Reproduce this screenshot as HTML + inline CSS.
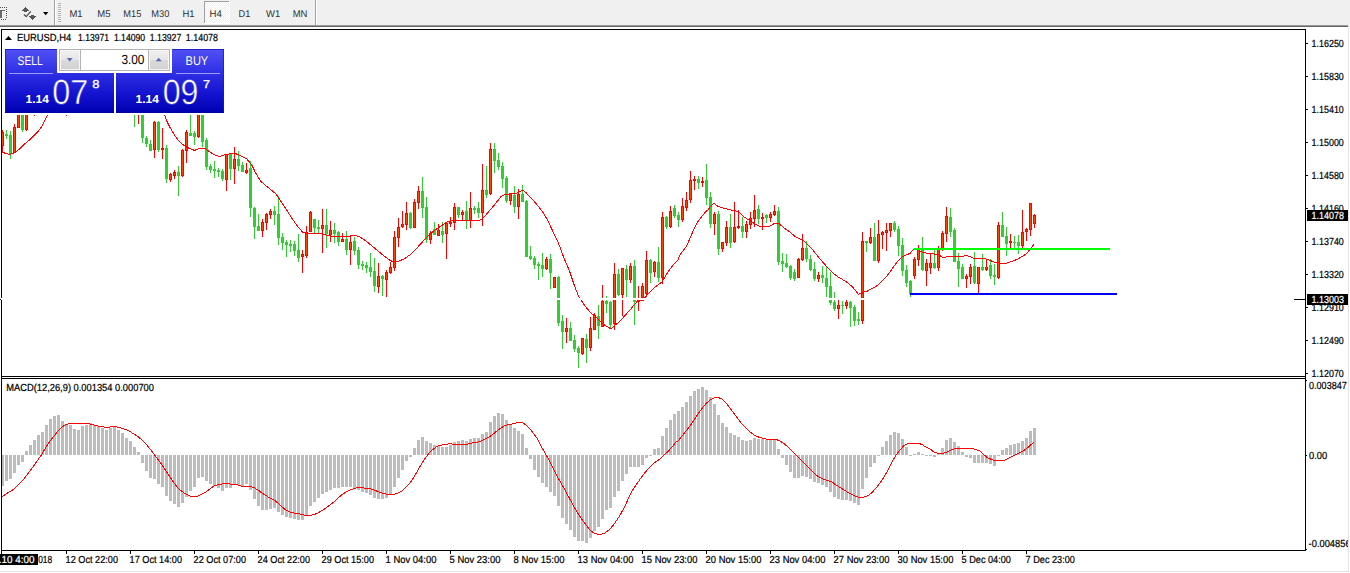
<!DOCTYPE html><html><head><meta charset="utf-8"><title>EURUSD H4</title><style>
html,body{margin:0;padding:0;background:#fff;overflow:hidden}svg{display:block}text{font-family:"Liberation Sans",sans-serif;text-rendering:geometricPrecision}
</style></head><body>
<svg width="1350" height="573" viewBox="0 0 1350 573">
<defs>
<linearGradient id="gb" x1="0" y1="0" x2="0" y2="1"><stop offset="0" stop-color="#5252f4"/><stop offset="0.35" stop-color="#3030e6"/><stop offset="0.75" stop-color="#1010cc"/><stop offset="1" stop-color="#0000b0"/></linearGradient>
<linearGradient id="gbtn" x1="0" y1="0" x2="0" y2="1"><stop offset="0" stop-color="#efefef"/><stop offset="0.48" stop-color="#e6e6e6"/><stop offset="0.52" stop-color="#dadada"/><stop offset="1" stop-color="#d2d2d2"/></linearGradient>
<pattern id="chk" width="2" height="2" patternUnits="userSpaceOnUse"><rect width="2" height="2" fill="#f0f0f0"/><rect width="1" height="1" fill="#fff"/><rect x="1" y="1" width="1" height="1" fill="#fff"/></pattern>
<linearGradient id="gbu" gradientUnits="userSpaceOnUse" x1="0" y1="49" x2="0" y2="113"><stop offset="0" stop-color="#5252f4"/><stop offset="0.35" stop-color="#3030e6"/><stop offset="0.75" stop-color="#1010cc"/><stop offset="1" stop-color="#0000b0"/></linearGradient>
<clipPath id="cm"><rect x="2" y="30" width="1303" height="346"/></clipPath>
<clipPath id="cd"><rect x="2" y="379" width="1303" height="171"/></clipPath>
<clipPath id="cr"><rect x="1306" y="27" width="42" height="544"/></clipPath>
</defs>
<rect width="1350" height="573" fill="#fff"/>
<g shape-rendering="crispEdges">
<rect x="0" y="0" width="1350" height="25" fill="#f0f0f0"/>
<rect x="0" y="25" width="1348" height="1" fill="#9a9a9a"/>
<rect x="0" y="26" width="1348" height="1" fill="#646464"/>
<rect x="1348" y="25" width="1" height="547" fill="#e3e3e3"/>
<rect x="0" y="571" width="1349" height="1" fill="#e3e3e3"/>
<rect x="54" y="0" width="1" height="25" fill="#a0a0a0"/><rect x="55" y="0" width="1" height="25" fill="#fff"/>
<rect x="315" y="0" width="1" height="25" fill="#a0a0a0"/><rect x="316" y="0" width="1" height="25" fill="#fff"/>
<rect x="58" y="3" width="3" height="1" fill="#b4b4b4"/>
<rect x="58" y="5" width="3" height="1" fill="#b4b4b4"/>
<rect x="58" y="7" width="3" height="1" fill="#b4b4b4"/>
<rect x="58" y="9" width="3" height="1" fill="#b4b4b4"/>
<rect x="58" y="11" width="3" height="1" fill="#b4b4b4"/>
<rect x="58" y="13" width="3" height="1" fill="#b4b4b4"/>
<rect x="58" y="15" width="3" height="1" fill="#b4b4b4"/>
<rect x="58" y="17" width="3" height="1" fill="#b4b4b4"/>
<rect x="58" y="19" width="3" height="1" fill="#b4b4b4"/>
<rect x="58" y="21" width="3" height="1" fill="#b4b4b4"/>
<rect x="204" y="1" width="26" height="23" fill="url(#chk)"/>
<rect x="204" y="1" width="26" height="1" fill="#a0a0a0"/><rect x="204" y="1" width="1" height="22" fill="#a0a0a0"/>
<rect x="229" y="1" width="1" height="23" fill="#fff"/><rect x="204" y="23" width="26" height="1" fill="#fff"/>
<rect x="0" y="7" width="1" height="1" fill="#505050"/>
<rect x="2" y="7" width="1" height="1" fill="#505050"/>
<rect x="4" y="7" width="1" height="1" fill="#505050"/>
<rect x="6" y="7" width="1" height="1" fill="#505050"/>
<rect x="1" y="19" width="1" height="1" fill="#505050"/>
<rect x="3" y="19" width="1" height="1" fill="#505050"/>
<rect x="5" y="19" width="1" height="1" fill="#505050"/>
<rect x="6" y="9" width="1" height="1" fill="#505050"/>
<rect x="6" y="11" width="1" height="1" fill="#505050"/>
<rect x="6" y="13" width="1" height="1" fill="#505050"/>
<rect x="6" y="15" width="1" height="1" fill="#505050"/>
<rect x="6" y="17" width="1" height="1" fill="#505050"/>
<rect x="0" y="10" width="5" height="1" fill="#6a6a6a"/><rect x="0" y="10" width="2" height="8" fill="#6a6a6a"/>
</g>
<g shape-rendering="crispEdges" fill="#585858">
<rect x="25" y="7" width="1" height="1"/>
<rect x="24" y="8" width="3" height="1"/>
<rect x="23" y="9" width="5" height="1"/>
<rect x="22" y="10" width="7" height="1"/>
<rect x="24" y="11" width="3" height="1"/>
<rect x="31" y="15" width="3" height="1"/>
<rect x="29" y="16" width="7" height="1"/>
<rect x="30" y="17" width="5" height="1"/>
<rect x="31" y="18" width="3" height="1"/>
<rect x="32" y="19" width="1" height="1"/>
</g>
<polyline points="24,14.6 26.2,16.6 30.8,11.4" fill="none" stroke="#505050" stroke-width="1.3"/>
<polygon points="43,12 48.4,12 45.7,15.2" fill="#000"/>
<text x="69.4" y="16.8" font-size="9.7" fill="#303030" textLength="13.1" lengthAdjust="spacingAndGlyphs" stroke="none">M1</text>
<text x="97.3" y="16.8" font-size="9.7" fill="#303030" textLength="13.2" lengthAdjust="spacingAndGlyphs" stroke="none">M5</text>
<text x="123.3" y="16.8" font-size="9.7" fill="#303030" textLength="18.0" lengthAdjust="spacingAndGlyphs" stroke="none">M15</text>
<text x="151.3" y="16.8" font-size="9.7" fill="#303030" textLength="18.0" lengthAdjust="spacingAndGlyphs" stroke="none">M30</text>
<text x="182.4" y="16.8" font-size="9.7" fill="#303030" textLength="12.1" lengthAdjust="spacingAndGlyphs" stroke="none">H1</text>
<text x="209.5" y="16.8" font-size="9.7" fill="#303030" textLength="12.3" lengthAdjust="spacingAndGlyphs" stroke="none">H4</text>
<text x="238.5" y="16.8" font-size="9.7" fill="#303030" textLength="11.8" lengthAdjust="spacingAndGlyphs" stroke="none">D1</text>
<text x="266.0" y="16.8" font-size="9.7" fill="#303030" textLength="14.2" lengthAdjust="spacingAndGlyphs" stroke="none">W1</text>
<text x="292.7" y="16.8" font-size="9.7" fill="#303030" textLength="14.7" lengthAdjust="spacingAndGlyphs" stroke="none">MN</text>
<g shape-rendering="crispEdges" fill="#000">
<rect x="1" y="29" width="1305" height="1"/>
<rect x="1" y="29" width="1" height="522"/>
<rect x="1305" y="29" width="1" height="522"/>
<rect x="1" y="376" width="1305" height="1"/>
<rect x="1" y="378" width="1305" height="1"/>
<rect x="1" y="550" width="1305" height="1"/>
</g>
<rect x="2" y="377" width="1303" height="1" fill="#fff"/>
<g clip-path="url(#cm)" shape-rendering="crispEdges">
<rect x="2" y="130" width="1" height="17" fill="#ff0000"/>
<rect x="1" y="132" width="3" height="14" fill="#ff0000"/>
<rect x="2" y="133" width="1" height="12" fill="#ff4500"/>
<rect x="6" y="130" width="1" height="9" fill="#32cd32"/>
<rect x="5" y="134" width="3" height="2" fill="#32cd32"/>
<rect x="10" y="131" width="1" height="28" fill="#32cd32"/>
<rect x="9" y="135" width="3" height="19" fill="#32cd32"/>
<rect x="14" y="124" width="1" height="29" fill="#ff0000"/>
<rect x="13" y="127" width="3" height="26" fill="#ff0000"/>
<rect x="14" y="128" width="1" height="24" fill="#ff4500"/>
<rect x="18" y="100" width="1" height="28" fill="#ff0000"/>
<rect x="17" y="100" width="3" height="28" fill="#ff0000"/>
<rect x="18" y="101" width="1" height="26" fill="#ff4500"/>
<rect x="22" y="100" width="1" height="32" fill="#32cd32"/>
<rect x="21" y="100" width="3" height="30" fill="#32cd32"/>
<rect x="26" y="100" width="1" height="31" fill="#ff0000"/>
<rect x="25" y="100" width="3" height="30" fill="#ff0000"/>
<rect x="26" y="101" width="1" height="28" fill="#ff4500"/>
<rect x="34" y="100" width="1" height="16" fill="#ff0000"/>
<rect x="33" y="100" width="3" height="12" fill="#ff0000"/>
<rect x="34" y="101" width="1" height="10" fill="#ff4500"/>
<rect x="66" y="100" width="1" height="16" fill="#ff0000"/>
<rect x="65" y="100" width="3" height="12" fill="#ff0000"/>
<rect x="66" y="101" width="1" height="10" fill="#ff4500"/>
<rect x="134" y="100" width="1" height="27" fill="#32cd32"/>
<rect x="133" y="100" width="3" height="12" fill="#32cd32"/>
<rect x="138" y="100" width="1" height="24" fill="#ff0000"/>
<rect x="137" y="100" width="3" height="12" fill="#ff0000"/>
<rect x="138" y="101" width="1" height="10" fill="#ff4500"/>
<rect x="142" y="100" width="1" height="43" fill="#32cd32"/>
<rect x="141" y="100" width="3" height="38" fill="#32cd32"/>
<rect x="146" y="136" width="1" height="11" fill="#32cd32"/>
<rect x="145" y="138" width="3" height="6" fill="#32cd32"/>
<rect x="150" y="140" width="1" height="11" fill="#32cd32"/>
<rect x="149" y="144" width="3" height="7" fill="#32cd32"/>
<rect x="154" y="121" width="1" height="37" fill="#ff0000"/>
<rect x="153" y="122" width="3" height="28" fill="#ff0000"/>
<rect x="154" y="123" width="1" height="26" fill="#ff4500"/>
<rect x="158" y="121" width="1" height="31" fill="#32cd32"/>
<rect x="157" y="122" width="3" height="28" fill="#32cd32"/>
<rect x="162" y="128" width="1" height="31" fill="#ff0000"/>
<rect x="161" y="148" width="3" height="2" fill="#ff0000"/>
<rect x="166" y="145" width="1" height="38" fill="#32cd32"/>
<rect x="165" y="148" width="3" height="31" fill="#32cd32"/>
<rect x="170" y="173" width="1" height="9" fill="#ff0000"/>
<rect x="169" y="174" width="3" height="6" fill="#ff0000"/>
<rect x="170" y="175" width="1" height="4" fill="#ff4500"/>
<rect x="174" y="170" width="1" height="9" fill="#ff0000"/>
<rect x="173" y="172" width="3" height="4" fill="#ff0000"/>
<rect x="174" y="173" width="1" height="2" fill="#ff4500"/>
<rect x="178" y="166" width="1" height="30" fill="#32cd32"/>
<rect x="177" y="172" width="3" height="4" fill="#32cd32"/>
<rect x="182" y="149" width="1" height="28" fill="#ff0000"/>
<rect x="181" y="150" width="3" height="26" fill="#ff0000"/>
<rect x="182" y="151" width="1" height="24" fill="#ff4500"/>
<rect x="186" y="130" width="1" height="33" fill="#ff0000"/>
<rect x="185" y="132" width="3" height="19" fill="#ff0000"/>
<rect x="186" y="133" width="1" height="17" fill="#ff4500"/>
<rect x="190" y="100" width="1" height="36" fill="#32cd32"/>
<rect x="189" y="133" width="3" height="3" fill="#32cd32"/>
<rect x="194" y="131" width="1" height="14" fill="#32cd32"/>
<rect x="193" y="133" width="3" height="4" fill="#32cd32"/>
<rect x="198" y="100" width="1" height="38" fill="#ff0000"/>
<rect x="197" y="100" width="3" height="37" fill="#ff0000"/>
<rect x="198" y="101" width="1" height="35" fill="#ff4500"/>
<rect x="202" y="100" width="1" height="47" fill="#32cd32"/>
<rect x="201" y="100" width="3" height="42" fill="#32cd32"/>
<rect x="206" y="138" width="1" height="32" fill="#32cd32"/>
<rect x="205" y="140" width="3" height="27" fill="#32cd32"/>
<rect x="210" y="164" width="1" height="9" fill="#32cd32"/>
<rect x="209" y="166" width="3" height="4" fill="#32cd32"/>
<rect x="214" y="161" width="1" height="17" fill="#32cd32"/>
<rect x="213" y="169" width="3" height="2" fill="#32cd32"/>
<rect x="218" y="168" width="1" height="9" fill="#32cd32"/>
<rect x="217" y="170" width="3" height="2" fill="#32cd32"/>
<rect x="222" y="169" width="1" height="12" fill="#32cd32"/>
<rect x="221" y="171" width="3" height="8" fill="#32cd32"/>
<rect x="226" y="154" width="1" height="37" fill="#ff0000"/>
<rect x="225" y="154" width="3" height="26" fill="#ff0000"/>
<rect x="226" y="155" width="1" height="24" fill="#ff4500"/>
<rect x="230" y="154" width="1" height="26" fill="#32cd32"/>
<rect x="229" y="154" width="3" height="15" fill="#32cd32"/>
<rect x="234" y="147" width="1" height="37" fill="#ff0000"/>
<rect x="233" y="159" width="3" height="10" fill="#ff0000"/>
<rect x="234" y="160" width="1" height="8" fill="#ff4500"/>
<rect x="238" y="151" width="1" height="20" fill="#32cd32"/>
<rect x="237" y="159" width="3" height="7" fill="#32cd32"/>
<rect x="242" y="162" width="1" height="10" fill="#32cd32"/>
<rect x="241" y="165" width="3" height="7" fill="#32cd32"/>
<rect x="246" y="163" width="1" height="11" fill="#ff0000"/>
<rect x="245" y="170" width="3" height="3" fill="#ff0000"/>
<rect x="246" y="171" width="1" height="1" fill="#ff4500"/>
<rect x="250" y="161" width="1" height="56" fill="#32cd32"/>
<rect x="249" y="168" width="3" height="40" fill="#32cd32"/>
<rect x="254" y="207" width="1" height="32" fill="#32cd32"/>
<rect x="253" y="208" width="3" height="19" fill="#32cd32"/>
<rect x="258" y="214" width="1" height="17" fill="#32cd32"/>
<rect x="257" y="226" width="3" height="5" fill="#32cd32"/>
<rect x="262" y="219" width="1" height="18" fill="#ff0000"/>
<rect x="261" y="222" width="3" height="9" fill="#ff0000"/>
<rect x="262" y="223" width="1" height="7" fill="#ff4500"/>
<rect x="266" y="213" width="1" height="17" fill="#ff0000"/>
<rect x="265" y="214" width="3" height="9" fill="#ff0000"/>
<rect x="266" y="215" width="1" height="7" fill="#ff4500"/>
<rect x="270" y="209" width="1" height="10" fill="#ff0000"/>
<rect x="269" y="211" width="3" height="4" fill="#ff0000"/>
<rect x="270" y="212" width="1" height="2" fill="#ff4500"/>
<rect x="274" y="206" width="1" height="19" fill="#32cd32"/>
<rect x="273" y="211" width="3" height="4" fill="#32cd32"/>
<rect x="278" y="196" width="1" height="49" fill="#32cd32"/>
<rect x="277" y="214" width="3" height="24" fill="#32cd32"/>
<rect x="282" y="233" width="1" height="17" fill="#32cd32"/>
<rect x="281" y="237" width="3" height="6" fill="#32cd32"/>
<rect x="286" y="240" width="1" height="17" fill="#32cd32"/>
<rect x="285" y="242" width="3" height="3" fill="#32cd32"/>
<rect x="290" y="240" width="1" height="12" fill="#32cd32"/>
<rect x="289" y="244" width="3" height="2" fill="#32cd32"/>
<rect x="294" y="241" width="1" height="15" fill="#32cd32"/>
<rect x="293" y="244" width="3" height="7" fill="#32cd32"/>
<rect x="298" y="234" width="1" height="28" fill="#32cd32"/>
<rect x="297" y="250" width="3" height="8" fill="#32cd32"/>
<rect x="302" y="250" width="1" height="23" fill="#ff0000"/>
<rect x="301" y="254" width="3" height="3" fill="#ff0000"/>
<rect x="302" y="255" width="1" height="1" fill="#ff4500"/>
<rect x="306" y="226" width="1" height="32" fill="#ff0000"/>
<rect x="305" y="232" width="3" height="24" fill="#ff0000"/>
<rect x="306" y="233" width="1" height="22" fill="#ff4500"/>
<rect x="310" y="211" width="1" height="21" fill="#ff0000"/>
<rect x="309" y="212" width="3" height="20" fill="#ff0000"/>
<rect x="310" y="213" width="1" height="18" fill="#ff4500"/>
<rect x="314" y="219" width="1" height="14" fill="#32cd32"/>
<rect x="313" y="219" width="3" height="9" fill="#32cd32"/>
<rect x="318" y="220" width="1" height="13" fill="#32cd32"/>
<rect x="317" y="227" width="3" height="2" fill="#32cd32"/>
<rect x="322" y="209" width="1" height="44" fill="#ff0000"/>
<rect x="321" y="225" width="3" height="4" fill="#ff0000"/>
<rect x="322" y="226" width="1" height="2" fill="#ff4500"/>
<rect x="326" y="209" width="1" height="39" fill="#32cd32"/>
<rect x="325" y="225" width="3" height="9" fill="#32cd32"/>
<rect x="330" y="221" width="1" height="21" fill="#ff0000"/>
<rect x="329" y="230" width="3" height="5" fill="#ff0000"/>
<rect x="330" y="231" width="1" height="3" fill="#ff4500"/>
<rect x="334" y="223" width="1" height="20" fill="#32cd32"/>
<rect x="333" y="230" width="3" height="4" fill="#32cd32"/>
<rect x="338" y="231" width="1" height="15" fill="#32cd32"/>
<rect x="337" y="232" width="3" height="10" fill="#32cd32"/>
<rect x="342" y="233" width="1" height="9" fill="#ff0000"/>
<rect x="341" y="239" width="3" height="3" fill="#ff0000"/>
<rect x="342" y="240" width="1" height="1" fill="#ff4500"/>
<rect x="346" y="231" width="1" height="24" fill="#32cd32"/>
<rect x="345" y="239" width="3" height="11" fill="#32cd32"/>
<rect x="350" y="236" width="1" height="29" fill="#ff0000"/>
<rect x="349" y="242" width="3" height="8" fill="#ff0000"/>
<rect x="350" y="243" width="1" height="6" fill="#ff4500"/>
<rect x="354" y="237" width="1" height="18" fill="#32cd32"/>
<rect x="353" y="241" width="3" height="10" fill="#32cd32"/>
<rect x="358" y="247" width="1" height="22" fill="#32cd32"/>
<rect x="357" y="250" width="3" height="15" fill="#32cd32"/>
<rect x="362" y="261" width="1" height="9" fill="#32cd32"/>
<rect x="361" y="264" width="3" height="2" fill="#32cd32"/>
<rect x="366" y="262" width="1" height="11" fill="#32cd32"/>
<rect x="365" y="265" width="3" height="3" fill="#32cd32"/>
<rect x="370" y="253" width="1" height="24" fill="#32cd32"/>
<rect x="369" y="267" width="3" height="5" fill="#32cd32"/>
<rect x="374" y="258" width="1" height="34" fill="#32cd32"/>
<rect x="373" y="271" width="3" height="15" fill="#32cd32"/>
<rect x="378" y="263" width="1" height="30" fill="#ff0000"/>
<rect x="377" y="276" width="3" height="11" fill="#ff0000"/>
<rect x="378" y="277" width="1" height="9" fill="#ff4500"/>
<rect x="382" y="275" width="1" height="21" fill="#32cd32"/>
<rect x="381" y="276" width="3" height="3" fill="#32cd32"/>
<rect x="386" y="270" width="1" height="27" fill="#ff0000"/>
<rect x="385" y="272" width="3" height="8" fill="#ff0000"/>
<rect x="386" y="273" width="1" height="6" fill="#ff4500"/>
<rect x="390" y="262" width="1" height="12" fill="#ff0000"/>
<rect x="389" y="267" width="3" height="6" fill="#ff0000"/>
<rect x="390" y="268" width="1" height="4" fill="#ff4500"/>
<rect x="394" y="231" width="1" height="40" fill="#ff0000"/>
<rect x="393" y="237" width="3" height="31" fill="#ff0000"/>
<rect x="394" y="238" width="1" height="29" fill="#ff4500"/>
<rect x="398" y="218" width="1" height="29" fill="#ff0000"/>
<rect x="397" y="227" width="3" height="11" fill="#ff0000"/>
<rect x="398" y="228" width="1" height="9" fill="#ff4500"/>
<rect x="402" y="211" width="1" height="17" fill="#ff0000"/>
<rect x="401" y="224" width="3" height="3" fill="#ff0000"/>
<rect x="402" y="225" width="1" height="1" fill="#ff4500"/>
<rect x="406" y="202" width="1" height="28" fill="#ff0000"/>
<rect x="405" y="213" width="3" height="12" fill="#ff0000"/>
<rect x="406" y="214" width="1" height="10" fill="#ff4500"/>
<rect x="410" y="212" width="1" height="17" fill="#32cd32"/>
<rect x="409" y="213" width="3" height="15" fill="#32cd32"/>
<rect x="414" y="199" width="1" height="29" fill="#ff0000"/>
<rect x="413" y="202" width="3" height="26" fill="#ff0000"/>
<rect x="414" y="203" width="1" height="24" fill="#ff4500"/>
<rect x="418" y="186" width="1" height="23" fill="#ff0000"/>
<rect x="417" y="191" width="3" height="12" fill="#ff0000"/>
<rect x="418" y="192" width="1" height="10" fill="#ff4500"/>
<rect x="422" y="177" width="1" height="41" fill="#32cd32"/>
<rect x="421" y="191" width="3" height="17" fill="#32cd32"/>
<rect x="426" y="197" width="1" height="46" fill="#32cd32"/>
<rect x="425" y="207" width="3" height="33" fill="#32cd32"/>
<rect x="430" y="231" width="1" height="13" fill="#ff0000"/>
<rect x="429" y="233" width="3" height="7" fill="#ff0000"/>
<rect x="430" y="234" width="1" height="5" fill="#ff4500"/>
<rect x="434" y="222" width="1" height="13" fill="#32cd32"/>
<rect x="433" y="229" width="3" height="6" fill="#32cd32"/>
<rect x="438" y="224" width="1" height="12" fill="#ff0000"/>
<rect x="437" y="230" width="3" height="6" fill="#ff0000"/>
<rect x="438" y="231" width="1" height="4" fill="#ff4500"/>
<rect x="442" y="222" width="1" height="21" fill="#32cd32"/>
<rect x="441" y="231" width="3" height="4" fill="#32cd32"/>
<rect x="446" y="222" width="1" height="37" fill="#ff0000"/>
<rect x="445" y="223" width="3" height="11" fill="#ff0000"/>
<rect x="446" y="224" width="1" height="9" fill="#ff4500"/>
<rect x="450" y="217" width="1" height="10" fill="#ff0000"/>
<rect x="449" y="222" width="3" height="2" fill="#ff0000"/>
<rect x="454" y="203" width="1" height="27" fill="#ff0000"/>
<rect x="453" y="207" width="3" height="16" fill="#ff0000"/>
<rect x="454" y="208" width="1" height="14" fill="#ff4500"/>
<rect x="458" y="207" width="1" height="11" fill="#32cd32"/>
<rect x="457" y="207" width="3" height="8" fill="#32cd32"/>
<rect x="462" y="210" width="1" height="11" fill="#ff0000"/>
<rect x="461" y="212" width="3" height="3" fill="#ff0000"/>
<rect x="462" y="213" width="1" height="1" fill="#ff4500"/>
<rect x="466" y="201" width="1" height="28" fill="#32cd32"/>
<rect x="465" y="211" width="3" height="10" fill="#32cd32"/>
<rect x="470" y="192" width="1" height="36" fill="#ff0000"/>
<rect x="469" y="208" width="3" height="13" fill="#ff0000"/>
<rect x="470" y="209" width="1" height="11" fill="#ff4500"/>
<rect x="474" y="206" width="1" height="8" fill="#32cd32"/>
<rect x="473" y="208" width="3" height="2" fill="#32cd32"/>
<rect x="478" y="202" width="1" height="16" fill="#32cd32"/>
<rect x="477" y="208" width="3" height="5" fill="#32cd32"/>
<rect x="482" y="164" width="1" height="62" fill="#ff0000"/>
<rect x="481" y="190" width="3" height="23" fill="#ff0000"/>
<rect x="482" y="191" width="1" height="21" fill="#ff4500"/>
<rect x="486" y="166" width="1" height="32" fill="#32cd32"/>
<rect x="485" y="190" width="3" height="5" fill="#32cd32"/>
<rect x="490" y="143" width="1" height="52" fill="#ff0000"/>
<rect x="489" y="149" width="3" height="45" fill="#ff0000"/>
<rect x="490" y="150" width="1" height="43" fill="#ff4500"/>
<rect x="494" y="143" width="1" height="30" fill="#32cd32"/>
<rect x="493" y="149" width="3" height="12" fill="#32cd32"/>
<rect x="498" y="153" width="1" height="17" fill="#32cd32"/>
<rect x="497" y="160" width="3" height="7" fill="#32cd32"/>
<rect x="502" y="162" width="1" height="26" fill="#32cd32"/>
<rect x="501" y="166" width="3" height="13" fill="#32cd32"/>
<rect x="506" y="176" width="1" height="27" fill="#32cd32"/>
<rect x="505" y="178" width="3" height="23" fill="#32cd32"/>
<rect x="510" y="193" width="1" height="12" fill="#ff0000"/>
<rect x="509" y="193" width="3" height="8" fill="#ff0000"/>
<rect x="510" y="194" width="1" height="6" fill="#ff4500"/>
<rect x="514" y="186" width="1" height="27" fill="#32cd32"/>
<rect x="513" y="195" width="3" height="12" fill="#32cd32"/>
<rect x="518" y="189" width="1" height="30" fill="#ff0000"/>
<rect x="517" y="194" width="3" height="13" fill="#ff0000"/>
<rect x="518" y="195" width="1" height="11" fill="#ff4500"/>
<rect x="522" y="185" width="1" height="17" fill="#32cd32"/>
<rect x="521" y="194" width="3" height="8" fill="#32cd32"/>
<rect x="526" y="200" width="1" height="57" fill="#32cd32"/>
<rect x="525" y="201" width="3" height="56" fill="#32cd32"/>
<rect x="530" y="246" width="1" height="14" fill="#32cd32"/>
<rect x="529" y="256" width="3" height="3" fill="#32cd32"/>
<rect x="534" y="256" width="1" height="13" fill="#32cd32"/>
<rect x="533" y="258" width="3" height="7" fill="#32cd32"/>
<rect x="538" y="262" width="1" height="18" fill="#32cd32"/>
<rect x="537" y="264" width="3" height="2" fill="#32cd32"/>
<rect x="542" y="253" width="1" height="24" fill="#32cd32"/>
<rect x="541" y="265" width="3" height="4" fill="#32cd32"/>
<rect x="546" y="257" width="1" height="13" fill="#ff0000"/>
<rect x="545" y="259" width="3" height="10" fill="#ff0000"/>
<rect x="546" y="260" width="1" height="8" fill="#ff4500"/>
<rect x="550" y="254" width="1" height="35" fill="#32cd32"/>
<rect x="549" y="259" width="3" height="14" fill="#32cd32"/>
<rect x="554" y="277" width="1" height="11" fill="#ff0000"/>
<rect x="553" y="277" width="3" height="11" fill="#ff0000"/>
<rect x="554" y="278" width="1" height="9" fill="#ff4500"/>
<rect x="558" y="276" width="1" height="50" fill="#32cd32"/>
<rect x="557" y="277" width="3" height="46" fill="#32cd32"/>
<rect x="562" y="315" width="1" height="34" fill="#32cd32"/>
<rect x="561" y="321" width="3" height="11" fill="#32cd32"/>
<rect x="566" y="318" width="1" height="25" fill="#ff0000"/>
<rect x="565" y="328" width="3" height="4" fill="#ff0000"/>
<rect x="566" y="329" width="1" height="2" fill="#ff4500"/>
<rect x="570" y="322" width="1" height="19" fill="#32cd32"/>
<rect x="569" y="328" width="3" height="13" fill="#32cd32"/>
<rect x="574" y="335" width="1" height="17" fill="#32cd32"/>
<rect x="573" y="340" width="3" height="9" fill="#32cd32"/>
<rect x="578" y="346" width="1" height="22" fill="#32cd32"/>
<rect x="577" y="348" width="3" height="5" fill="#32cd32"/>
<rect x="582" y="338" width="1" height="17" fill="#ff0000"/>
<rect x="581" y="338" width="3" height="16" fill="#ff0000"/>
<rect x="582" y="339" width="1" height="14" fill="#ff4500"/>
<rect x="586" y="334" width="1" height="29" fill="#32cd32"/>
<rect x="585" y="339" width="3" height="9" fill="#32cd32"/>
<rect x="590" y="317" width="1" height="34" fill="#ff0000"/>
<rect x="589" y="328" width="3" height="20" fill="#ff0000"/>
<rect x="590" y="329" width="1" height="18" fill="#ff4500"/>
<rect x="594" y="313" width="1" height="17" fill="#ff0000"/>
<rect x="593" y="315" width="3" height="15" fill="#ff0000"/>
<rect x="594" y="316" width="1" height="13" fill="#ff4500"/>
<rect x="598" y="305" width="1" height="34" fill="#32cd32"/>
<rect x="597" y="316" width="3" height="10" fill="#32cd32"/>
<rect x="602" y="285" width="1" height="42" fill="#ff0000"/>
<rect x="601" y="301" width="3" height="26" fill="#ff0000"/>
<rect x="602" y="302" width="1" height="24" fill="#ff4500"/>
<rect x="606" y="296" width="1" height="17" fill="#32cd32"/>
<rect x="605" y="301" width="3" height="3" fill="#32cd32"/>
<rect x="610" y="301" width="1" height="28" fill="#32cd32"/>
<rect x="609" y="302" width="3" height="23" fill="#32cd32"/>
<rect x="614" y="263" width="1" height="67" fill="#ff0000"/>
<rect x="613" y="274" width="3" height="50" fill="#ff0000"/>
<rect x="614" y="275" width="1" height="48" fill="#ff4500"/>
<rect x="618" y="269" width="1" height="27" fill="#32cd32"/>
<rect x="617" y="274" width="3" height="21" fill="#32cd32"/>
<rect x="622" y="268" width="1" height="48" fill="#ff0000"/>
<rect x="621" y="268" width="3" height="27" fill="#ff0000"/>
<rect x="622" y="269" width="1" height="25" fill="#ff4500"/>
<rect x="626" y="265" width="1" height="32" fill="#32cd32"/>
<rect x="625" y="269" width="3" height="11" fill="#32cd32"/>
<rect x="630" y="263" width="1" height="20" fill="#ff0000"/>
<rect x="629" y="266" width="3" height="14" fill="#ff0000"/>
<rect x="630" y="267" width="1" height="12" fill="#ff4500"/>
<rect x="634" y="260" width="1" height="65" fill="#32cd32"/>
<rect x="633" y="266" width="3" height="36" fill="#32cd32"/>
<rect x="638" y="286" width="1" height="25" fill="#ff0000"/>
<rect x="637" y="300" width="3" height="2" fill="#ff0000"/>
<rect x="642" y="283" width="1" height="15" fill="#ff0000"/>
<rect x="641" y="286" width="3" height="12" fill="#ff0000"/>
<rect x="642" y="287" width="1" height="10" fill="#ff4500"/>
<rect x="646" y="251" width="1" height="46" fill="#ff0000"/>
<rect x="645" y="260" width="3" height="34" fill="#ff0000"/>
<rect x="646" y="261" width="1" height="32" fill="#ff4500"/>
<rect x="650" y="259" width="1" height="24" fill="#32cd32"/>
<rect x="649" y="260" width="3" height="13" fill="#32cd32"/>
<rect x="654" y="261" width="1" height="16" fill="#ff0000"/>
<rect x="653" y="262" width="3" height="10" fill="#ff0000"/>
<rect x="654" y="263" width="1" height="8" fill="#ff4500"/>
<rect x="658" y="247" width="1" height="35" fill="#32cd32"/>
<rect x="657" y="262" width="3" height="16" fill="#32cd32"/>
<rect x="662" y="212" width="1" height="72" fill="#ff0000"/>
<rect x="661" y="217" width="3" height="61" fill="#ff0000"/>
<rect x="662" y="218" width="1" height="59" fill="#ff4500"/>
<rect x="666" y="216" width="1" height="13" fill="#32cd32"/>
<rect x="665" y="217" width="3" height="10" fill="#32cd32"/>
<rect x="670" y="206" width="1" height="22" fill="#ff0000"/>
<rect x="669" y="211" width="3" height="16" fill="#ff0000"/>
<rect x="670" y="212" width="1" height="14" fill="#ff4500"/>
<rect x="674" y="205" width="1" height="13" fill="#32cd32"/>
<rect x="673" y="208" width="3" height="8" fill="#32cd32"/>
<rect x="678" y="212" width="1" height="15" fill="#32cd32"/>
<rect x="677" y="215" width="3" height="5" fill="#32cd32"/>
<rect x="682" y="198" width="1" height="24" fill="#ff0000"/>
<rect x="681" y="206" width="3" height="14" fill="#ff0000"/>
<rect x="682" y="207" width="1" height="12" fill="#ff4500"/>
<rect x="686" y="192" width="1" height="19" fill="#ff0000"/>
<rect x="685" y="200" width="3" height="8" fill="#ff0000"/>
<rect x="686" y="201" width="1" height="6" fill="#ff4500"/>
<rect x="690" y="171" width="1" height="32" fill="#ff0000"/>
<rect x="689" y="180" width="3" height="20" fill="#ff0000"/>
<rect x="690" y="181" width="1" height="18" fill="#ff4500"/>
<rect x="694" y="176" width="1" height="14" fill="#ff0000"/>
<rect x="693" y="179" width="3" height="2" fill="#ff0000"/>
<rect x="698" y="176" width="1" height="13" fill="#32cd32"/>
<rect x="697" y="179" width="3" height="4" fill="#32cd32"/>
<rect x="702" y="177" width="1" height="10" fill="#ff0000"/>
<rect x="701" y="181" width="3" height="2" fill="#ff0000"/>
<rect x="706" y="164" width="1" height="41" fill="#32cd32"/>
<rect x="705" y="180" width="3" height="18" fill="#32cd32"/>
<rect x="710" y="192" width="1" height="36" fill="#32cd32"/>
<rect x="709" y="197" width="3" height="27" fill="#32cd32"/>
<rect x="714" y="212" width="1" height="23" fill="#ff0000"/>
<rect x="713" y="214" width="3" height="10" fill="#ff0000"/>
<rect x="714" y="215" width="1" height="8" fill="#ff4500"/>
<rect x="718" y="211" width="1" height="44" fill="#32cd32"/>
<rect x="717" y="214" width="3" height="35" fill="#32cd32"/>
<rect x="722" y="242" width="1" height="10" fill="#ff0000"/>
<rect x="721" y="242" width="3" height="7" fill="#ff0000"/>
<rect x="722" y="243" width="1" height="5" fill="#ff4500"/>
<rect x="726" y="221" width="1" height="25" fill="#ff0000"/>
<rect x="725" y="227" width="3" height="16" fill="#ff0000"/>
<rect x="726" y="228" width="1" height="14" fill="#ff4500"/>
<rect x="730" y="214" width="1" height="34" fill="#32cd32"/>
<rect x="729" y="227" width="3" height="16" fill="#32cd32"/>
<rect x="734" y="202" width="1" height="41" fill="#ff0000"/>
<rect x="733" y="227" width="3" height="15" fill="#ff0000"/>
<rect x="734" y="228" width="1" height="13" fill="#ff4500"/>
<rect x="738" y="210" width="1" height="19" fill="#ff0000"/>
<rect x="737" y="226" width="3" height="2" fill="#ff0000"/>
<rect x="742" y="217" width="1" height="21" fill="#32cd32"/>
<rect x="741" y="226" width="3" height="6" fill="#32cd32"/>
<rect x="746" y="221" width="1" height="17" fill="#ff0000"/>
<rect x="745" y="224" width="3" height="8" fill="#ff0000"/>
<rect x="746" y="225" width="1" height="6" fill="#ff4500"/>
<rect x="750" y="212" width="1" height="17" fill="#ff0000"/>
<rect x="749" y="218" width="3" height="7" fill="#ff0000"/>
<rect x="750" y="219" width="1" height="5" fill="#ff4500"/>
<rect x="754" y="195" width="1" height="32" fill="#ff0000"/>
<rect x="753" y="210" width="3" height="9" fill="#ff0000"/>
<rect x="754" y="211" width="1" height="7" fill="#ff4500"/>
<rect x="758" y="205" width="1" height="19" fill="#32cd32"/>
<rect x="757" y="209" width="3" height="10" fill="#32cd32"/>
<rect x="762" y="213" width="1" height="17" fill="#ff0000"/>
<rect x="761" y="217" width="3" height="2" fill="#ff0000"/>
<rect x="766" y="214" width="1" height="9" fill="#32cd32"/>
<rect x="765" y="215" width="3" height="3" fill="#32cd32"/>
<rect x="770" y="212" width="1" height="10" fill="#ff0000"/>
<rect x="769" y="214" width="3" height="4" fill="#ff0000"/>
<rect x="770" y="215" width="1" height="2" fill="#ff4500"/>
<rect x="774" y="205" width="1" height="11" fill="#ff0000"/>
<rect x="773" y="211" width="3" height="4" fill="#ff0000"/>
<rect x="774" y="212" width="1" height="2" fill="#ff4500"/>
<rect x="778" y="207" width="1" height="58" fill="#32cd32"/>
<rect x="777" y="211" width="3" height="51" fill="#32cd32"/>
<rect x="782" y="253" width="1" height="19" fill="#32cd32"/>
<rect x="781" y="261" width="3" height="3" fill="#32cd32"/>
<rect x="786" y="254" width="1" height="14" fill="#32cd32"/>
<rect x="785" y="263" width="3" height="4" fill="#32cd32"/>
<rect x="790" y="265" width="1" height="15" fill="#32cd32"/>
<rect x="789" y="266" width="3" height="12" fill="#32cd32"/>
<rect x="794" y="269" width="1" height="12" fill="#32cd32"/>
<rect x="793" y="272" width="3" height="7" fill="#32cd32"/>
<rect x="798" y="258" width="1" height="20" fill="#ff0000"/>
<rect x="797" y="259" width="3" height="19" fill="#ff0000"/>
<rect x="798" y="260" width="1" height="17" fill="#ff4500"/>
<rect x="802" y="234" width="1" height="27" fill="#ff0000"/>
<rect x="801" y="248" width="3" height="12" fill="#ff0000"/>
<rect x="802" y="249" width="1" height="10" fill="#ff4500"/>
<rect x="806" y="241" width="1" height="21" fill="#32cd32"/>
<rect x="805" y="248" width="3" height="11" fill="#32cd32"/>
<rect x="810" y="255" width="1" height="16" fill="#32cd32"/>
<rect x="809" y="259" width="3" height="11" fill="#32cd32"/>
<rect x="814" y="262" width="1" height="19" fill="#32cd32"/>
<rect x="813" y="269" width="3" height="10" fill="#32cd32"/>
<rect x="818" y="272" width="1" height="10" fill="#ff0000"/>
<rect x="817" y="275" width="3" height="4" fill="#ff0000"/>
<rect x="818" y="276" width="1" height="2" fill="#ff4500"/>
<rect x="822" y="266" width="1" height="17" fill="#32cd32"/>
<rect x="821" y="275" width="3" height="3" fill="#32cd32"/>
<rect x="826" y="267" width="1" height="30" fill="#32cd32"/>
<rect x="825" y="278" width="3" height="9" fill="#32cd32"/>
<rect x="830" y="272" width="1" height="33" fill="#32cd32"/>
<rect x="829" y="286" width="3" height="17" fill="#32cd32"/>
<rect x="834" y="292" width="1" height="19" fill="#32cd32"/>
<rect x="833" y="302" width="3" height="7" fill="#32cd32"/>
<rect x="838" y="300" width="1" height="19" fill="#ff0000"/>
<rect x="837" y="305" width="3" height="4" fill="#ff0000"/>
<rect x="838" y="306" width="1" height="2" fill="#ff4500"/>
<rect x="842" y="301" width="1" height="13" fill="#32cd32"/>
<rect x="841" y="305" width="3" height="1" fill="#32cd32"/>
<rect x="846" y="300" width="1" height="9" fill="#ff0000"/>
<rect x="845" y="302" width="3" height="4" fill="#ff0000"/>
<rect x="846" y="303" width="1" height="2" fill="#ff4500"/>
<rect x="850" y="301" width="1" height="26" fill="#32cd32"/>
<rect x="849" y="302" width="3" height="6" fill="#32cd32"/>
<rect x="854" y="305" width="1" height="21" fill="#32cd32"/>
<rect x="853" y="307" width="3" height="14" fill="#32cd32"/>
<rect x="858" y="312" width="1" height="13" fill="#32cd32"/>
<rect x="857" y="319" width="3" height="2" fill="#32cd32"/>
<rect x="862" y="232" width="1" height="92" fill="#ff0000"/>
<rect x="861" y="241" width="3" height="80" fill="#ff0000"/>
<rect x="862" y="242" width="1" height="78" fill="#ff4500"/>
<rect x="866" y="241" width="1" height="11" fill="#32cd32"/>
<rect x="865" y="241" width="3" height="2" fill="#32cd32"/>
<rect x="870" y="228" width="1" height="16" fill="#ff0000"/>
<rect x="869" y="237" width="3" height="6" fill="#ff0000"/>
<rect x="870" y="238" width="1" height="4" fill="#ff4500"/>
<rect x="874" y="223" width="1" height="38" fill="#32cd32"/>
<rect x="873" y="237" width="3" height="24" fill="#32cd32"/>
<rect x="878" y="220" width="1" height="43" fill="#ff0000"/>
<rect x="877" y="234" width="3" height="27" fill="#ff0000"/>
<rect x="878" y="235" width="1" height="25" fill="#ff4500"/>
<rect x="882" y="231" width="1" height="18" fill="#ff0000"/>
<rect x="881" y="232" width="3" height="3" fill="#ff0000"/>
<rect x="882" y="233" width="1" height="1" fill="#ff4500"/>
<rect x="886" y="223" width="1" height="28" fill="#ff0000"/>
<rect x="885" y="230" width="3" height="3" fill="#ff0000"/>
<rect x="886" y="231" width="1" height="1" fill="#ff4500"/>
<rect x="890" y="223" width="1" height="14" fill="#ff0000"/>
<rect x="889" y="223" width="3" height="8" fill="#ff0000"/>
<rect x="890" y="224" width="1" height="6" fill="#ff4500"/>
<rect x="894" y="221" width="1" height="11" fill="#32cd32"/>
<rect x="893" y="223" width="3" height="7" fill="#32cd32"/>
<rect x="898" y="226" width="1" height="30" fill="#32cd32"/>
<rect x="897" y="229" width="3" height="17" fill="#32cd32"/>
<rect x="902" y="238" width="1" height="38" fill="#32cd32"/>
<rect x="901" y="245" width="3" height="26" fill="#32cd32"/>
<rect x="906" y="265" width="1" height="22" fill="#32cd32"/>
<rect x="905" y="270" width="3" height="13" fill="#32cd32"/>
<rect x="910" y="280" width="1" height="17" fill="#32cd32"/>
<rect x="909" y="281" width="3" height="13" fill="#32cd32"/>
<rect x="914" y="257" width="1" height="22" fill="#ff0000"/>
<rect x="913" y="259" width="3" height="17" fill="#ff0000"/>
<rect x="914" y="260" width="1" height="15" fill="#ff4500"/>
<rect x="918" y="245" width="1" height="21" fill="#ff0000"/>
<rect x="917" y="249" width="3" height="11" fill="#ff0000"/>
<rect x="918" y="250" width="1" height="9" fill="#ff4500"/>
<rect x="922" y="237" width="1" height="34" fill="#32cd32"/>
<rect x="921" y="249" width="3" height="21" fill="#32cd32"/>
<rect x="926" y="259" width="1" height="27" fill="#ff0000"/>
<rect x="925" y="263" width="3" height="8" fill="#ff0000"/>
<rect x="926" y="264" width="1" height="6" fill="#ff4500"/>
<rect x="930" y="253" width="1" height="21" fill="#ff0000"/>
<rect x="929" y="263" width="3" height="5" fill="#ff0000"/>
<rect x="930" y="264" width="1" height="3" fill="#ff4500"/>
<rect x="934" y="250" width="1" height="19" fill="#32cd32"/>
<rect x="933" y="263" width="3" height="5" fill="#32cd32"/>
<rect x="938" y="246" width="1" height="25" fill="#ff0000"/>
<rect x="937" y="248" width="3" height="20" fill="#ff0000"/>
<rect x="938" y="249" width="1" height="18" fill="#ff4500"/>
<rect x="942" y="231" width="1" height="20" fill="#ff0000"/>
<rect x="941" y="233" width="3" height="16" fill="#ff0000"/>
<rect x="942" y="234" width="1" height="14" fill="#ff4500"/>
<rect x="946" y="207" width="1" height="35" fill="#ff0000"/>
<rect x="945" y="216" width="3" height="18" fill="#ff0000"/>
<rect x="946" y="217" width="1" height="16" fill="#ff4500"/>
<rect x="950" y="208" width="1" height="29" fill="#32cd32"/>
<rect x="949" y="217" width="3" height="15" fill="#32cd32"/>
<rect x="954" y="228" width="1" height="34" fill="#32cd32"/>
<rect x="953" y="230" width="3" height="32" fill="#32cd32"/>
<rect x="958" y="253" width="1" height="34" fill="#32cd32"/>
<rect x="957" y="261" width="3" height="8" fill="#32cd32"/>
<rect x="962" y="264" width="1" height="15" fill="#32cd32"/>
<rect x="961" y="267" width="3" height="12" fill="#32cd32"/>
<rect x="966" y="274" width="1" height="14" fill="#ff0000"/>
<rect x="965" y="276" width="3" height="3" fill="#ff0000"/>
<rect x="966" y="277" width="1" height="1" fill="#ff4500"/>
<rect x="970" y="264" width="1" height="20" fill="#ff0000"/>
<rect x="969" y="267" width="3" height="10" fill="#ff0000"/>
<rect x="970" y="268" width="1" height="8" fill="#ff4500"/>
<rect x="974" y="252" width="1" height="32" fill="#32cd32"/>
<rect x="973" y="266" width="3" height="17" fill="#32cd32"/>
<rect x="978" y="267" width="1" height="26" fill="#ff0000"/>
<rect x="977" y="267" width="3" height="17" fill="#ff0000"/>
<rect x="978" y="268" width="1" height="15" fill="#ff4500"/>
<rect x="982" y="254" width="1" height="17" fill="#32cd32"/>
<rect x="981" y="267" width="3" height="3" fill="#32cd32"/>
<rect x="986" y="260" width="1" height="11" fill="#ff0000"/>
<rect x="985" y="267" width="3" height="3" fill="#ff0000"/>
<rect x="986" y="268" width="1" height="1" fill="#ff4500"/>
<rect x="990" y="259" width="1" height="20" fill="#32cd32"/>
<rect x="989" y="265" width="3" height="11" fill="#32cd32"/>
<rect x="994" y="264" width="1" height="21" fill="#32cd32"/>
<rect x="993" y="275" width="3" height="2" fill="#32cd32"/>
<rect x="998" y="222" width="1" height="57" fill="#ff0000"/>
<rect x="997" y="225" width="3" height="53" fill="#ff0000"/>
<rect x="998" y="226" width="1" height="51" fill="#ff4500"/>
<rect x="1002" y="212" width="1" height="25" fill="#32cd32"/>
<rect x="1001" y="225" width="3" height="12" fill="#32cd32"/>
<rect x="1006" y="227" width="1" height="29" fill="#32cd32"/>
<rect x="1005" y="236" width="3" height="8" fill="#32cd32"/>
<rect x="1010" y="234" width="1" height="14" fill="#ff0000"/>
<rect x="1009" y="241" width="3" height="2" fill="#ff0000"/>
<rect x="1014" y="236" width="1" height="12" fill="#32cd32"/>
<rect x="1013" y="242" width="3" height="1" fill="#32cd32"/>
<rect x="1018" y="235" width="1" height="19" fill="#32cd32"/>
<rect x="1017" y="242" width="3" height="4" fill="#32cd32"/>
<rect x="1022" y="210" width="1" height="38" fill="#ff0000"/>
<rect x="1021" y="232" width="3" height="14" fill="#ff0000"/>
<rect x="1022" y="233" width="1" height="12" fill="#ff4500"/>
<rect x="1026" y="228" width="1" height="13" fill="#ff0000"/>
<rect x="1025" y="229" width="3" height="3" fill="#ff0000"/>
<rect x="1026" y="230" width="1" height="1" fill="#ff4500"/>
<rect x="1030" y="203" width="1" height="33" fill="#ff0000"/>
<rect x="1029" y="203" width="3" height="27" fill="#ff0000"/>
<rect x="1030" y="204" width="1" height="25" fill="#ff4500"/>
<rect x="1034" y="214" width="1" height="14" fill="#ff0000"/>
<rect x="1033" y="215" width="3" height="9" fill="#ff0000"/>
<rect x="1034" y="216" width="1" height="7" fill="#ff4500"/>
</g>
<polyline points="2,146 2,152 6,153.6 10,154.4 14,153 17,151 20,148.5 24.9,143.8 29.8,139.8 34.8,134.8 39.8,129.4 43.7,122.9 47.2,115.5 50,109" fill="none" stroke="#ff0000" stroke-width="1" stroke-linejoin="round" shape-rendering="crispEdges" clip-path="url(#cm)"/>
<polyline points="160,106 164.6,115 167,121.5 170,127.4 173,132.5 176,137.3 179,141 182.2,144.2 186.8,147.3 190.7,148.9 194.5,150.4 199.1,148.5 205.2,148.4 209.8,152 214,154.5 219,156.5 225.2,154.7 230,153.8 234.4,153.1 240.6,155.8 246.7,158.8 251.3,164.2 255.9,173.4 260.5,181 265,185 270,189 276,194 280,200 286,209 292,218.4 298,227 303,232.4 308,233.6 320,233.6 326,235 330,236 340,236.4 350,236 354,235 360,237 366,241 372,246 378,251 384,256 390,260.4 394,262 398,261.4 404,259 410.2,254.7 416,249 420,244.5 423.9,240.3 427,237 430,233.8 434.5,230.5 439,227.4 443,224.6 446.6,222.1 451,220.8 455.7,220.1 464,220.1 471,220.1 474.5,220.8 477.8,221 480.5,219.8 483,218.3 487.5,213 492.2,207.6 496.7,202 501.3,196.3 504.3,194.7 510,194 516.5,193.2 519.5,191.8 522.6,190.2 526,192.5 528,195 532,199 536,203.6 540,208.4 544,214 548,221 552,229.5 556,238 558.3,242.8 561,250 563.8,257.5 566.5,264 569.3,270.3 572,278.5 574.8,286.8 578.5,296 581.2,300.5 585.8,307 591.3,313.4 595,316 599,320 602.3,323.5 606,326 609.6,328 610.6,329 614,326 618,323 622,319 626,314.4 630,310 634,305 638,300.6 643,300.4 646,296 650,292 654,288 658,285 662,282 666,275 670,269 674,264 678,260 679.9,255 683,251 686.5,246.2 689,240.5 691.5,234.6 694,229 696.5,223.8 699.8,219 703.1,214.7 705.6,212 708.1,209.7 710,207.3 712.2,204.8 714.4,203.1 716,204.8 718,206.4 722,207.7 726.3,208.9 732,210.2 737.9,211.4 741,214 744.5,217.2 748,219.5 751.2,221.4 754.5,223.6 757.8,225.5 760,226.3 762.8,226.7 769.4,226.3 772,225 774.4,223.3 778.5,223.3 781,225.3 784.3,228 787,230 790,232.1 792,234 796,237 800,239 804,241 808,245 812,249 816,254 820,259 824,263.4 828,268 832,272 836,275.6 840,278 844,280.4 848,283 852,286.6 855,289.8 858.4,294.5 859.4,293.5 862,293.5 863.6,291.5 866.8,291.5 870,289.6 874,287.6 878,285 882,281 886,277 890,272 894,266 898,261 902,257 906,255 910,253.4 914,249 918,249.6 922,252 926,253 930,253.6 934,254 938,254 942,257 946,257 950,256 954,256 958,257 962,256.6 966,255.6 970,256.6 974,258.6 980,258.6 986,259 990,260.4 994,262 998,262.6 1002,263.4 1006,263.4 1010,262 1014,260.6 1018,259 1022,256.6 1026,254 1030,249.6 1034,244.4" fill="none" stroke="#ff0000" stroke-width="1" stroke-linejoin="round" shape-rendering="crispEdges" clip-path="url(#cm)"/>
<g shape-rendering="crispEdges">
<rect x="914" y="248" width="196" height="2" fill="#00ff00"/>
<rect x="910" y="293" width="207" height="2" fill="#0000f0"/>
<rect x="1" y="298.4" width="1304" height="1.3" fill="#fff"/>
<rect x="0" y="299" width="1" height="1" fill="#000"/>
<rect x="1294" y="299" width="12" height="1" fill="#000"/>
</g>
<g clip-path="url(#cd)" shape-rendering="crispEdges" fill="#bcbcbc">
<rect x="1" y="455" width="3" height="31"/>
<rect x="5" y="455" width="3" height="26"/>
<rect x="9" y="455" width="3" height="24"/>
<rect x="13" y="455" width="3" height="18"/>
<rect x="17" y="455" width="3" height="10"/>
<rect x="21" y="455" width="3" height="6.6"/>
<rect x="25" y="451" width="3" height="4"/>
<rect x="29" y="445" width="3" height="10"/>
<rect x="33" y="440" width="3" height="15"/>
<rect x="37" y="435" width="3" height="20"/>
<rect x="41" y="432" width="3" height="23"/>
<rect x="45" y="425" width="3" height="30"/>
<rect x="49" y="419" width="3" height="36"/>
<rect x="53" y="416" width="3" height="39"/>
<rect x="57" y="415" width="3" height="40"/>
<rect x="61" y="421" width="3" height="34"/>
<rect x="65" y="424" width="3" height="31"/>
<rect x="69" y="425" width="3" height="30"/>
<rect x="73" y="429" width="3" height="26"/>
<rect x="77" y="430" width="3" height="25"/>
<rect x="81" y="426" width="3" height="29"/>
<rect x="85" y="425" width="3" height="30"/>
<rect x="89" y="423" width="3" height="32"/>
<rect x="93" y="425" width="3" height="30"/>
<rect x="97" y="426" width="3" height="29"/>
<rect x="101" y="428" width="3" height="27"/>
<rect x="105" y="430" width="3" height="25"/>
<rect x="109" y="428" width="3" height="27"/>
<rect x="113" y="427" width="3" height="28"/>
<rect x="117" y="430" width="3" height="25"/>
<rect x="121" y="433" width="3" height="22"/>
<rect x="125" y="438" width="3" height="17"/>
<rect x="129" y="441" width="3" height="14"/>
<rect x="133" y="447" width="3" height="8"/>
<rect x="137" y="452" width="3" height="3"/>
<rect x="141" y="455" width="3" height="8"/>
<rect x="145" y="455" width="3" height="16"/>
<rect x="149" y="455" width="3" height="23"/>
<rect x="153" y="455" width="3" height="24"/>
<rect x="157" y="455" width="3" height="29"/>
<rect x="161" y="455" width="3" height="32"/>
<rect x="165" y="455" width="3" height="41"/>
<rect x="169" y="455" width="3" height="46"/>
<rect x="173" y="455" width="3" height="49"/>
<rect x="177" y="455" width="3" height="52"/>
<rect x="181" y="455" width="3" height="48"/>
<rect x="185" y="455" width="3" height="42"/>
<rect x="189" y="455" width="3" height="36"/>
<rect x="193" y="455" width="3" height="32"/>
<rect x="197" y="455" width="3" height="23"/>
<rect x="201" y="455" width="3" height="22"/>
<rect x="205" y="455" width="3" height="26"/>
<rect x="209" y="455" width="3" height="29"/>
<rect x="213" y="455" width="3" height="31"/>
<rect x="217" y="455" width="3" height="33"/>
<rect x="221" y="455" width="3" height="36"/>
<rect x="225" y="455" width="3" height="33"/>
<rect x="229" y="455" width="3" height="33"/>
<rect x="233" y="455" width="3" height="30"/>
<rect x="237" y="455" width="3" height="30"/>
<rect x="241" y="455" width="3" height="31"/>
<rect x="245" y="455" width="3" height="29"/>
<rect x="249" y="455" width="3" height="35"/>
<rect x="253" y="455" width="3" height="44"/>
<rect x="257" y="455" width="3" height="51"/>
<rect x="261" y="455" width="3" height="55"/>
<rect x="265" y="455" width="3" height="55"/>
<rect x="269" y="455" width="3" height="54"/>
<rect x="273" y="455" width="3" height="53"/>
<rect x="277" y="455" width="3" height="57"/>
<rect x="281" y="455" width="3" height="60"/>
<rect x="285" y="455" width="3" height="62"/>
<rect x="289" y="455" width="3" height="63"/>
<rect x="293" y="455" width="3" height="64"/>
<rect x="297" y="455" width="3" height="65"/>
<rect x="301" y="455" width="3" height="65"/>
<rect x="305" y="455" width="3" height="60"/>
<rect x="309" y="455" width="3" height="51"/>
<rect x="313" y="455" width="3" height="47"/>
<rect x="317" y="455" width="3" height="43"/>
<rect x="321" y="455" width="3" height="39"/>
<rect x="325" y="455" width="3" height="37"/>
<rect x="329" y="455" width="3" height="35"/>
<rect x="333" y="455" width="3" height="33"/>
<rect x="337" y="455" width="3" height="33"/>
<rect x="341" y="455" width="3" height="32"/>
<rect x="345" y="455" width="3" height="32"/>
<rect x="349" y="455" width="3" height="32"/>
<rect x="353" y="455" width="3" height="33"/>
<rect x="357" y="455" width="3" height="35"/>
<rect x="361" y="455" width="3" height="37"/>
<rect x="365" y="455" width="3" height="38"/>
<rect x="369" y="455" width="3" height="40"/>
<rect x="373" y="455" width="3" height="43"/>
<rect x="377" y="455" width="3" height="44"/>
<rect x="381" y="455" width="3" height="44"/>
<rect x="385" y="455" width="3" height="43"/>
<rect x="389" y="455" width="3" height="40"/>
<rect x="393" y="455" width="3" height="32"/>
<rect x="397" y="455" width="3" height="23"/>
<rect x="401" y="455" width="3" height="15"/>
<rect x="405" y="455" width="3" height="6"/>
<rect x="409" y="455" width="3" height="2"/>
<rect x="413" y="448" width="3" height="7"/>
<rect x="417" y="440" width="3" height="15"/>
<rect x="421" y="437" width="3" height="18"/>
<rect x="425" y="441" width="3" height="14"/>
<rect x="429" y="443" width="3" height="12"/>
<rect x="433" y="445" width="3" height="10"/>
<rect x="437" y="446" width="3" height="9"/>
<rect x="441" y="447" width="3" height="8"/>
<rect x="445" y="447" width="3" height="8"/>
<rect x="449" y="445" width="3" height="10"/>
<rect x="453" y="442" width="3" height="13"/>
<rect x="457" y="441" width="3" height="14"/>
<rect x="461" y="440" width="3" height="15"/>
<rect x="465" y="441" width="3" height="14"/>
<rect x="469" y="439" width="3" height="16"/>
<rect x="473" y="438" width="3" height="17"/>
<rect x="477" y="438" width="3" height="17"/>
<rect x="481" y="434" width="3" height="21"/>
<rect x="485" y="432" width="3" height="23"/>
<rect x="489" y="422" width="3" height="33"/>
<rect x="493" y="416" width="3" height="39"/>
<rect x="497" y="413" width="3" height="42"/>
<rect x="501" y="414" width="3" height="41"/>
<rect x="505" y="420" width="3" height="35"/>
<rect x="509" y="424" width="3" height="31"/>
<rect x="513" y="428" width="3" height="27"/>
<rect x="517" y="431" width="3" height="24"/>
<rect x="521" y="434" width="3" height="21"/>
<rect x="525" y="448" width="3" height="7"/>
<rect x="529" y="455" width="3" height="4"/>
<rect x="533" y="455" width="3" height="14.7"/>
<rect x="537" y="455" width="3" height="22.4"/>
<rect x="541" y="455" width="3" height="28"/>
<rect x="545" y="455" width="3" height="31.6"/>
<rect x="549" y="455" width="3" height="36.8"/>
<rect x="553" y="455" width="3" height="40.6"/>
<rect x="557" y="455" width="3" height="51"/>
<rect x="561" y="455" width="3" height="62.7"/>
<rect x="565" y="455" width="3" height="69.4"/>
<rect x="569" y="455" width="3" height="75"/>
<rect x="573" y="455" width="3" height="81.5"/>
<rect x="577" y="455" width="3" height="86.3"/>
<rect x="581" y="455" width="3" height="86.3"/>
<rect x="585" y="455" width="3" height="87.7"/>
<rect x="589" y="455" width="3" height="83.4"/>
<rect x="593" y="455" width="3" height="76"/>
<rect x="597" y="455" width="3" height="72.3"/>
<rect x="601" y="455" width="3" height="63.7"/>
<rect x="605" y="455" width="3" height="55"/>
<rect x="609" y="455" width="3" height="53"/>
<rect x="613" y="455" width="3" height="41.6"/>
<rect x="617" y="455" width="3" height="35.9"/>
<rect x="621" y="455" width="3" height="25.7"/>
<rect x="625" y="455" width="3" height="18.6"/>
<rect x="629" y="455" width="3" height="11.5"/>
<rect x="633" y="455" width="3" height="12.4"/>
<rect x="637" y="455" width="3" height="12.4"/>
<rect x="641" y="455" width="3" height="9.6"/>
<rect x="645" y="455" width="3" height="2.7"/>
<rect x="649" y="455" width="3" height="1"/>
<rect x="653" y="449" width="3" height="6"/>
<rect x="657" y="448" width="3" height="7"/>
<rect x="661" y="436" width="3" height="19"/>
<rect x="665" y="428" width="3" height="27"/>
<rect x="669" y="420" width="3" height="35"/>
<rect x="673" y="414" width="3" height="41"/>
<rect x="677" y="411" width="3" height="44"/>
<rect x="681" y="407" width="3" height="48"/>
<rect x="685" y="402" width="3" height="53"/>
<rect x="689" y="396" width="3" height="59"/>
<rect x="693" y="391" width="3" height="64"/>
<rect x="697" y="389" width="3" height="66"/>
<rect x="701" y="387" width="3" height="68"/>
<rect x="705" y="390" width="3" height="65"/>
<rect x="709" y="397" width="3" height="58"/>
<rect x="713" y="404" width="3" height="51"/>
<rect x="717" y="415" width="3" height="40"/>
<rect x="721" y="423" width="3" height="32"/>
<rect x="725" y="427" width="3" height="28"/>
<rect x="729" y="433" width="3" height="22"/>
<rect x="733" y="435" width="3" height="20"/>
<rect x="737" y="437" width="3" height="18"/>
<rect x="741" y="440" width="3" height="15"/>
<rect x="745" y="441" width="3" height="14"/>
<rect x="749" y="440" width="3" height="15"/>
<rect x="753" y="438" width="3" height="17"/>
<rect x="757" y="439" width="3" height="16"/>
<rect x="761" y="439" width="3" height="16"/>
<rect x="765" y="440" width="3" height="15"/>
<rect x="769" y="440" width="3" height="15"/>
<rect x="773" y="440" width="3" height="15"/>
<rect x="777" y="449" width="3" height="6"/>
<rect x="781" y="455" width="3" height="3"/>
<rect x="785" y="455" width="3" height="10"/>
<rect x="789" y="455" width="3" height="17"/>
<rect x="793" y="455" width="3" height="23"/>
<rect x="797" y="455" width="3" height="23"/>
<rect x="801" y="455" width="3" height="21"/>
<rect x="805" y="455" width="3" height="22"/>
<rect x="809" y="455" width="3" height="24"/>
<rect x="813" y="455" width="3" height="27"/>
<rect x="817" y="455" width="3" height="28"/>
<rect x="821" y="455" width="3" height="30"/>
<rect x="825" y="455" width="3" height="32"/>
<rect x="829" y="455" width="3" height="37"/>
<rect x="833" y="455" width="3" height="42"/>
<rect x="837" y="455" width="3" height="44"/>
<rect x="841" y="455" width="3" height="45"/>
<rect x="845" y="455" width="3" height="45"/>
<rect x="849" y="455" width="3" height="46"/>
<rect x="853" y="455" width="3" height="48"/>
<rect x="857" y="455" width="3" height="50"/>
<rect x="861" y="455" width="3" height="34"/>
<rect x="865" y="455" width="3" height="23"/>
<rect x="869" y="455" width="3" height="12"/>
<rect x="873" y="455" width="3" height="8"/>
<rect x="877" y="454.5" width="3" height="1"/>
<rect x="881" y="447" width="3" height="8"/>
<rect x="885" y="441" width="3" height="14"/>
<rect x="889" y="435" width="3" height="20"/>
<rect x="893" y="432" width="3" height="23"/>
<rect x="897" y="433" width="3" height="22"/>
<rect x="901" y="439" width="3" height="16"/>
<rect x="905" y="447" width="3" height="8"/>
<rect x="909" y="455" width="3" height="1"/>
<rect x="913" y="454" width="3" height="1"/>
<rect x="917" y="452" width="3" height="3"/>
<rect x="921" y="454" width="3" height="1"/>
<rect x="925" y="455" width="3" height="1"/>
<rect x="929" y="455" width="3" height="1"/>
<rect x="933" y="455" width="3" height="1.6"/>
<rect x="937" y="454" width="3" height="1"/>
<rect x="941" y="448" width="3" height="7"/>
<rect x="945" y="440" width="3" height="15"/>
<rect x="949" y="438" width="3" height="17"/>
<rect x="953" y="442" width="3" height="13"/>
<rect x="957" y="446" width="3" height="9"/>
<rect x="961" y="452" width="3" height="3"/>
<rect x="965" y="455" width="3" height="1.6"/>
<rect x="969" y="455" width="3" height="3"/>
<rect x="973" y="455" width="3" height="8"/>
<rect x="977" y="455" width="3" height="8"/>
<rect x="981" y="455" width="3" height="7.8"/>
<rect x="985" y="455" width="3" height="7.8"/>
<rect x="989" y="455" width="3" height="8.8"/>
<rect x="993" y="455" width="3" height="10.8"/>
<rect x="997" y="455" width="3" height="1"/>
<rect x="1001" y="450" width="3" height="5"/>
<rect x="1005" y="448" width="3" height="7"/>
<rect x="1009" y="445" width="3" height="10"/>
<rect x="1013" y="444" width="3" height="11"/>
<rect x="1017" y="443" width="3" height="12"/>
<rect x="1021" y="441" width="3" height="14"/>
<rect x="1025" y="438" width="3" height="17"/>
<rect x="1029" y="431" width="3" height="24"/>
<rect x="1033" y="428" width="3" height="27"/>
</g>
<polyline points="2,497 6,494 10,491.6 14,489 18,485 24,479 30,471 36,462.6 42,454 48,444 54,436 58,431 62,427 66,424.6 70,423.6 80,423.4 88,423.6 94,425 100,426.4 106,427.4 110,427 114,426.4 120,427.6 126,429.6 130,431.6 134,434 138,436.6 142,440 146,444 150,449 154,454 158,459.6 162,465 166,471 170,477 174,483 178,488 182,491.6 186,494 190,496 194,496.6 198,496 202,494 206,492 210,489 214,486 218,484.6 222,484 226,483.4 230,484 234,484.6 238,485 242,486.4 246,486.6 250,486.2 254,487.6 258,490 262,493 266,495.6 270,498 274,500 278,503 282,507 286,510 290,512 294,513 298,513.6 302,514.6 306,515.4 310,515.4 314,514.6 318,513 322,510.6 326,508 330,505 334,502 338,498 342,494.6 346,492 350,490 354,488.6 358,487.6 362,487.6 366,488.4 370,488.6 374,490 378,491.6 382,493 386,494 390,494.6 394,494.4 398,493 402,491 406,487 410,483 414,477 418,470 422,463 426,457 430,452 434,448.4 438,446 442,445 446,444.4 450,443.6 454,444.4 466,444.4 470,443.6 474,442.6 478,442 482,440.6 484,439.6 488,437.6 492,435 496,431.6 500,428.6 504,426 508,424.6 512,424 516,423 520,422.4 523,423 526,425 530,429 534,434 538,439.6 541,446 545,453 549,460 553,468 557,476 561,483 565,490 569,497.6 573,505 577,512 581,518 585,523.5 589,529 593,532.5 597,534 601,534.2 605,533 609,530 613,525.5 617,520 621,513.5 625,506 629,497 633,489.5 637,483.5 641,478 645,472.6 649,468 653,464 656,461.7 660,459 664,455 668,451.5 672,447 676,442 678,441 682,436 686,431 690,426 694,420 698,414 702,408.4 706,403.6 710,400 714,398 718,397.4 722,399 726,403 730,408 734,413.6 738,419 742,424 744,426 748,430 752,433.6 756,436 760,437.6 764,438.6 768,439.4 776,439.4 780,441 784,443.6 788,447 792,451 796,455 800,459 804,463 808,467 812,471 816,475 820,477.6 824,479.4 828,480.6 832,482 836,485 840,487.4 844,490 848,492.4 852,494.4 856,496.4 860,497.4 864,497 868,495.6 872,492.6 876,488 880,483 884,477 888,470 892,462 896,455 900,450 904,445.6 908,443.4 912,443 918,443 922,444.6 926,447 930,449 934,452 938,453.4 942,453.4 946,452.4 950,450.4 954,449 958,448.4 970,448.4 974,449 978,450.4 980,451 984,455 988,458 992,459.6 994,460.5 1003,460.5 1006,459.6 1010,457.6 1014,455.6 1018,453.6 1022,451.6 1026,449 1030,445.6 1033.5,442.4" fill="none" stroke="#ff0000" stroke-width="1" stroke-linejoin="round" shape-rendering="crispEdges" clip-path="url(#cd)"/>
<g shape-rendering="crispEdges">
<rect x="3" y="47" width="223" height="68" fill="#fff"/>
<rect x="5" y="49" width="219" height="64" fill="url(#gb)"/>
<rect x="5" y="49" width="219" height="1" fill="#2020c8"/>
<rect x="5" y="49" width="1" height="64" fill="#1818c0" opacity="0.7"/>
<rect x="223" y="49" width="1" height="64" fill="#1818c0" opacity="0.7"/>
<rect x="5" y="112" width="219" height="1" fill="#0000a0" opacity="0.7"/>
<rect x="57" y="49" width="115" height="24" fill="#fff"/>
<rect x="114" y="73" width="2" height="40" fill="#fff"/>
<rect x="9" y="73" width="44" height="1" fill="#9a9af8"/>
<rect x="176" y="73" width="44" height="1" fill="#9a9af8"/>
<rect x="59" y="49" width="111" height="22" fill="#b4b4b4"/>
<rect x="60" y="50" width="109" height="20" fill="#fff"/>
<rect x="60" y="50" width="20" height="20" fill="#f6f6f6"/>
<rect x="61" y="51" width="18" height="18" fill="url(#gbtn)"/>
<rect x="149" y="50" width="20" height="20" fill="#f6f6f6"/>
<rect x="150" y="51" width="18" height="18" fill="url(#gbtn)"/>
<rect x="80" y="50" width="1" height="20" fill="#b4b4b4"/>
<rect x="148" y="50" width="1" height="20" fill="#b4b4b4"/>
</g>
<polygon points="66.7,58 72.7,58 69.7,61.5" fill="#5868b8"/>
<polygon points="155.7,61.3 161.7,61.3 158.7,57.7" fill="#5868b8"/>
<text x="17.6" y="64.6" font-size="12.6" fill="#fff" textLength="25.2" lengthAdjust="spacingAndGlyphs">SELL</text>
<text x="185.6" y="64.6" font-size="12.6" fill="#fff" textLength="22.6" lengthAdjust="spacingAndGlyphs">BUY</text>
<text x="144.4" y="64" font-size="13.4" fill="#000" text-anchor="end" textLength="23" lengthAdjust="spacingAndGlyphs">3.00</text>
<text x="25.6" y="103.4" font-size="11.6" fill="#fff" font-weight="bold" textLength="23.4" lengthAdjust="spacingAndGlyphs">1.14</text>
<text x="135.6" y="103.4" font-size="11.6" fill="#fff" font-weight="bold" textLength="23.4" lengthAdjust="spacingAndGlyphs">1.14</text>
<text x="52.3" y="104.3" font-size="35" fill="#fff" textLength="36" lengthAdjust="spacingAndGlyphs" stroke="url(#gbu)" stroke-width="0.5">07</text>
<text x="162.7" y="104.3" font-size="35" fill="#fff" textLength="35.8" lengthAdjust="spacingAndGlyphs" stroke="url(#gbu)" stroke-width="0.5">09</text>
<text x="92.2" y="88.2" font-size="11.4" fill="#fff" textLength="7.2" lengthAdjust="spacingAndGlyphs" stroke="#fff" stroke-width="0.35">8</text>
<text x="203" y="88.2" font-size="11.4" fill="#fff" textLength="7" lengthAdjust="spacingAndGlyphs" stroke="#fff" stroke-width="0.35">7</text>
<polygon points="5,40 12,40 8.5,36" fill="#000"/>
<text x="17" y="41" font-size="10.2" fill="#000" textLength="54.2" lengthAdjust="spacingAndGlyphs" stroke="#000" stroke-width="0.22">EURUSD,H4</text>
<text x="78" y="41" font-size="10.2" fill="#000" textLength="31" lengthAdjust="spacingAndGlyphs" stroke="#000" stroke-width="0.22">1.13971</text>
<text x="113.9" y="41" font-size="10.2" fill="#000" textLength="31.3" lengthAdjust="spacingAndGlyphs" stroke="#000" stroke-width="0.22">1.14090</text>
<text x="149.8" y="41" font-size="10.2" fill="#000" textLength="31.5" lengthAdjust="spacingAndGlyphs" stroke="#000" stroke-width="0.22">1.13927</text>
<text x="185.8" y="41" font-size="10.2" fill="#000" textLength="32.2" lengthAdjust="spacingAndGlyphs" stroke="#000" stroke-width="0.22">1.14078</text>
<text x="6.2" y="391" font-size="10.2" fill="#000" textLength="147.8" lengthAdjust="spacingAndGlyphs" stroke="#000" stroke-width="0.22">MACD(12,26,9) 0.001354 0.000700</text>
<g clip-path="url(#cr)">
<rect x="1306" y="43" width="2" height="1" fill="#000" shape-rendering="crispEdges"/>
<text x="1311.6" y="46.9" font-size="10.2" fill="#000" textLength="32.2" lengthAdjust="spacingAndGlyphs" stroke="#000" stroke-width="0.22">1.16250</text>
<rect x="1306" y="76" width="2" height="1" fill="#000" shape-rendering="crispEdges"/>
<text x="1311.6" y="79.9" font-size="10.2" fill="#000" textLength="32.2" lengthAdjust="spacingAndGlyphs" stroke="#000" stroke-width="0.22">1.15830</text>
<rect x="1306" y="109" width="2" height="1" fill="#000" shape-rendering="crispEdges"/>
<text x="1311.6" y="112.9" font-size="10.2" fill="#000" textLength="32.2" lengthAdjust="spacingAndGlyphs" stroke="#000" stroke-width="0.22">1.15410</text>
<rect x="1306" y="142" width="2" height="1" fill="#000" shape-rendering="crispEdges"/>
<text x="1311.6" y="145.9" font-size="10.2" fill="#000" textLength="32.2" lengthAdjust="spacingAndGlyphs" stroke="#000" stroke-width="0.22">1.15000</text>
<rect x="1306" y="175" width="2" height="1" fill="#000" shape-rendering="crispEdges"/>
<text x="1311.6" y="178.9" font-size="10.2" fill="#000" textLength="32.2" lengthAdjust="spacingAndGlyphs" stroke="#000" stroke-width="0.22">1.14580</text>
<rect x="1306" y="208" width="2" height="1" fill="#000" shape-rendering="crispEdges"/>
<text x="1311.6" y="211.9" font-size="10.2" fill="#000" textLength="32.2" lengthAdjust="spacingAndGlyphs" stroke="#000" stroke-width="0.22">1.14160</text>
<rect x="1306" y="241" width="2" height="1" fill="#000" shape-rendering="crispEdges"/>
<text x="1311.6" y="244.9" font-size="10.2" fill="#000" textLength="32.2" lengthAdjust="spacingAndGlyphs" stroke="#000" stroke-width="0.22">1.13740</text>
<rect x="1306" y="274" width="2" height="1" fill="#000" shape-rendering="crispEdges"/>
<text x="1311.6" y="277.9" font-size="10.2" fill="#000" textLength="32.2" lengthAdjust="spacingAndGlyphs" stroke="#000" stroke-width="0.22">1.13320</text>
<rect x="1306" y="307" width="2" height="1" fill="#000" shape-rendering="crispEdges"/>
<text x="1311.6" y="310.9" font-size="10.2" fill="#000" textLength="32.2" lengthAdjust="spacingAndGlyphs" stroke="#000" stroke-width="0.22">1.12910</text>
<rect x="1306" y="340" width="2" height="1" fill="#000" shape-rendering="crispEdges"/>
<text x="1311.6" y="343.9" font-size="10.2" fill="#000" textLength="32.2" lengthAdjust="spacingAndGlyphs" stroke="#000" stroke-width="0.22">1.12490</text>
<rect x="1306" y="373" width="2" height="1" fill="#000" shape-rendering="crispEdges"/>
<text x="1311.6" y="376.9" font-size="10.2" fill="#000" textLength="32.2" lengthAdjust="spacingAndGlyphs" stroke="#000" stroke-width="0.22">1.12070</text>
<rect x="1307" y="210" width="41" height="11" fill="#000" shape-rendering="crispEdges"/>
<text x="1311.6" y="218.9" font-size="10.2" fill="#fff" textLength="32.4" lengthAdjust="spacingAndGlyphs" stroke="#fff" stroke-width="0.22">1.14078</text>
<rect x="1307" y="294" width="41" height="11" fill="#000" shape-rendering="crispEdges"/>
<text x="1311.6" y="302.9" font-size="10.2" fill="#fff" textLength="32.4" lengthAdjust="spacingAndGlyphs" stroke="#fff" stroke-width="0.22">1.13003</text>
<rect x="1306" y="380" width="1" height="1" fill="#000" shape-rendering="crispEdges"/>
<text x="1309" y="388.9" font-size="10.2" fill="#000" textLength="37.8" lengthAdjust="spacingAndGlyphs" stroke="#000" stroke-width="0.22">0.003847</text>
<rect x="1306" y="455" width="1" height="1" fill="#000" shape-rendering="crispEdges"/>
<text x="1309" y="458.9" font-size="10.2" fill="#000" textLength="18.2" lengthAdjust="spacingAndGlyphs" stroke="#000" stroke-width="0.22">0.00</text>
<rect x="1306" y="549" width="1" height="1" fill="#000" shape-rendering="crispEdges"/>
<text x="1308.6" y="546.9" font-size="10.2" fill="#000" textLength="42" lengthAdjust="spacingAndGlyphs" stroke="#000" stroke-width="0.22">-0.004856</text>
</g>
<g shape-rendering="crispEdges" fill="#000">
<rect x="1" y="551" width="1" height="3"/>
<rect x="66" y="551" width="1" height="3"/>
<rect x="130" y="551" width="1" height="3"/>
<rect x="194" y="551" width="1" height="3"/>
<rect x="258" y="551" width="1" height="3"/>
<rect x="322" y="551" width="1" height="3"/>
<rect x="386" y="551" width="1" height="3"/>
<rect x="450" y="551" width="1" height="3"/>
<rect x="514" y="551" width="1" height="3"/>
<rect x="578" y="551" width="1" height="3"/>
<rect x="642" y="551" width="1" height="3"/>
<rect x="706" y="551" width="1" height="3"/>
<rect x="770" y="551" width="1" height="3"/>
<rect x="834" y="551" width="1" height="3"/>
<rect x="898" y="551" width="1" height="3"/>
<rect x="962" y="551" width="1" height="3"/>
<rect x="1026" y="551" width="1" height="3"/>
<rect x="0" y="554" width="38" height="11"/>
</g>
<text x="65.6" y="563" font-size="10.2" fill="#000" textLength="52.4" lengthAdjust="spacingAndGlyphs" stroke="#000" stroke-width="0.22">12 Oct 22:00</text>
<text x="129.6" y="563" font-size="10.2" fill="#000" textLength="52.4" lengthAdjust="spacingAndGlyphs" stroke="#000" stroke-width="0.22">17 Oct 14:00</text>
<text x="193.6" y="563" font-size="10.2" fill="#000" textLength="52.4" lengthAdjust="spacingAndGlyphs" stroke="#000" stroke-width="0.22">22 Oct 07:00</text>
<text x="257.6" y="563" font-size="10.2" fill="#000" textLength="52.4" lengthAdjust="spacingAndGlyphs" stroke="#000" stroke-width="0.22">24 Oct 22:00</text>
<text x="321.6" y="563" font-size="10.2" fill="#000" textLength="52.4" lengthAdjust="spacingAndGlyphs" stroke="#000" stroke-width="0.22">29 Oct 15:00</text>
<text x="385.6" y="563" font-size="10.2" fill="#000" textLength="50.9" lengthAdjust="spacingAndGlyphs" stroke="#000" stroke-width="0.22">1 Nov 04:00</text>
<text x="449.6" y="563" font-size="10.2" fill="#000" textLength="50.9" lengthAdjust="spacingAndGlyphs" stroke="#000" stroke-width="0.22">5 Nov 23:00</text>
<text x="513.6" y="563" font-size="10.2" fill="#000" textLength="50.9" lengthAdjust="spacingAndGlyphs" stroke="#000" stroke-width="0.22">8 Nov 15:00</text>
<text x="577.6" y="563" font-size="10.2" fill="#000" textLength="55.8" lengthAdjust="spacingAndGlyphs" stroke="#000" stroke-width="0.22">13 Nov 04:00</text>
<text x="641.6" y="563" font-size="10.2" fill="#000" textLength="55.8" lengthAdjust="spacingAndGlyphs" stroke="#000" stroke-width="0.22">15 Nov 23:00</text>
<text x="705.6" y="563" font-size="10.2" fill="#000" textLength="55.8" lengthAdjust="spacingAndGlyphs" stroke="#000" stroke-width="0.22">20 Nov 15:00</text>
<text x="769.6" y="563" font-size="10.2" fill="#000" textLength="55.8" lengthAdjust="spacingAndGlyphs" stroke="#000" stroke-width="0.22">23 Nov 04:00</text>
<text x="833.6" y="563" font-size="10.2" fill="#000" textLength="55.8" lengthAdjust="spacingAndGlyphs" stroke="#000" stroke-width="0.22">27 Nov 23:00</text>
<text x="897.6" y="563" font-size="10.2" fill="#000" textLength="55.8" lengthAdjust="spacingAndGlyphs" stroke="#000" stroke-width="0.22">30 Nov 15:00</text>
<text x="961.6" y="563" font-size="10.2" fill="#000" textLength="49.300000000000004" lengthAdjust="spacingAndGlyphs" stroke="#000" stroke-width="0.22">5 Dec 04:00</text>
<text x="1025.6" y="563" font-size="10.2" fill="#000" textLength="49.300000000000004" lengthAdjust="spacingAndGlyphs" stroke="#000" stroke-width="0.22">7 Dec 23:00</text>
<text x="-1.2" y="563" font-size="10.2" fill="#fff" textLength="35.6" lengthAdjust="spacingAndGlyphs" stroke="#fff" stroke-width="0.22">.10 4:00</text>
<text x="38.2" y="563" font-size="10.2" fill="#000" textLength="14" lengthAdjust="spacingAndGlyphs" stroke="#000" stroke-width="0.22">018</text>
</svg></body></html>
